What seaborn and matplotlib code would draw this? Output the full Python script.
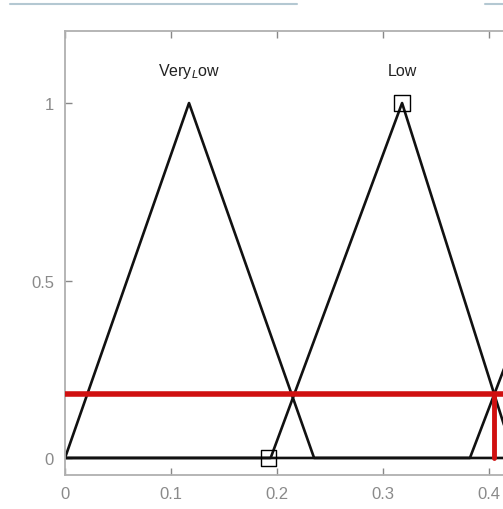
import numpy as np
import pandas as pd

import matplotlib
matplotlib.use('Agg')

import matplotlib.pyplot as plt
import seaborn as sns

# membership function breakpoints (a, peak, c)
mf_names = ["Very$_L$ow", "Low", "Medium"]
mf_a = [0.0, 0.194, 0.382]
mf_b = [0.117, 0.318, 0.51]
mf_c = [0.235, 0.424, 0.64]
mf_show_label = [True, True, False]

# input value and its membership degree
x_in = 0.405
mu_in = 0.18

# square markers (selected points)
sq_x = [0.192, 0.318]
sq_y = [0.0, 1.0]

xticks = [0, 0.1, 0.2, 0.3, 0.4, 0.5, 0.6, 0.7, 0.8, 0.9, 1]
xtick_labels = ["0", "0.1", "0.2", "0.3", "0.4", "", "", "", "", "", ""]
yticks = [0, 0.5, 1]
ytick_labels = ["0", "0.5", "1"]

sns.set_style("white")
plt.rcParams['font.family'] = ['Liberation Sans', 'DejaVu Sans']

fig = plt.figure(figsize=(5.03, 5.10), dpi=100)
ax = fig.add_axes([65 / 503, 34 / 510, 1060 / 503, 444 / 510])

rows = []
for name, a, b, c in zip(mf_names, mf_a, mf_b, mf_c):
    for x, y in zip([0, a, b, c, 1], [0, 0, 1, 0, 0]):
        rows.append({"mf": name, "x": x, "y": y})
df = pd.DataFrame(rows)

sns.lineplot(data=df, x="x", y="y", units="mf", estimator=None, sort=False,
             color="#111111", linewidth=1.9, ax=ax, legend=False)

for name, b, show in zip(mf_names, mf_b, mf_show_label):
    if show:
        ax.text(b, 1.093, name, ha="center", va="center", fontsize=11.5, color="#222222")

# red input lines
ax.axhline(mu_in, color="#d01010", linewidth=4, zorder=3)
ax.plot([x_in, x_in], [0, mu_in], color="#d01010", linewidth=3.5, zorder=3)

sns.scatterplot(x=sq_x, y=sq_y, marker="s", s=120, facecolor="none",
                edgecolor="black", linewidth=1.0, ax=ax, zorder=4)

ax.set_xlim(0, 1)
ax.set_ylim(-0.048, 1.203)
ax.set_xticks(xticks)
ax.set_xticklabels(xtick_labels)
ax.set_yticks(yticks)
ax.set_yticklabels(ytick_labels)
ax.set_xlabel("")
ax.set_ylabel("")
ax.tick_params(direction="in", length=5, width=1, color="#888888",
               labelcolor="#8a8a8a", labelsize=12, top=True, right=True,
               bottom=True, left=True, pad=8)
for sp in ax.spines.values():
    sp.set_color("#b0b0b0")
    sp.set_linewidth(1.3)

# page artefact lines along the top
fig.add_artist(plt.Line2D([10 / 503, 297 / 503], [1 - 5 / 510, 1 - 5 / 510],
                          color="#b4c8d2", linewidth=1.5))
fig.add_artist(plt.Line2D([485 / 503, 1], [1 - 5 / 510, 1 - 5 / 510],
                          color="#b4c8d2", linewidth=1.5))

plt.savefig("out.png", dpi=100)
plt.close()
